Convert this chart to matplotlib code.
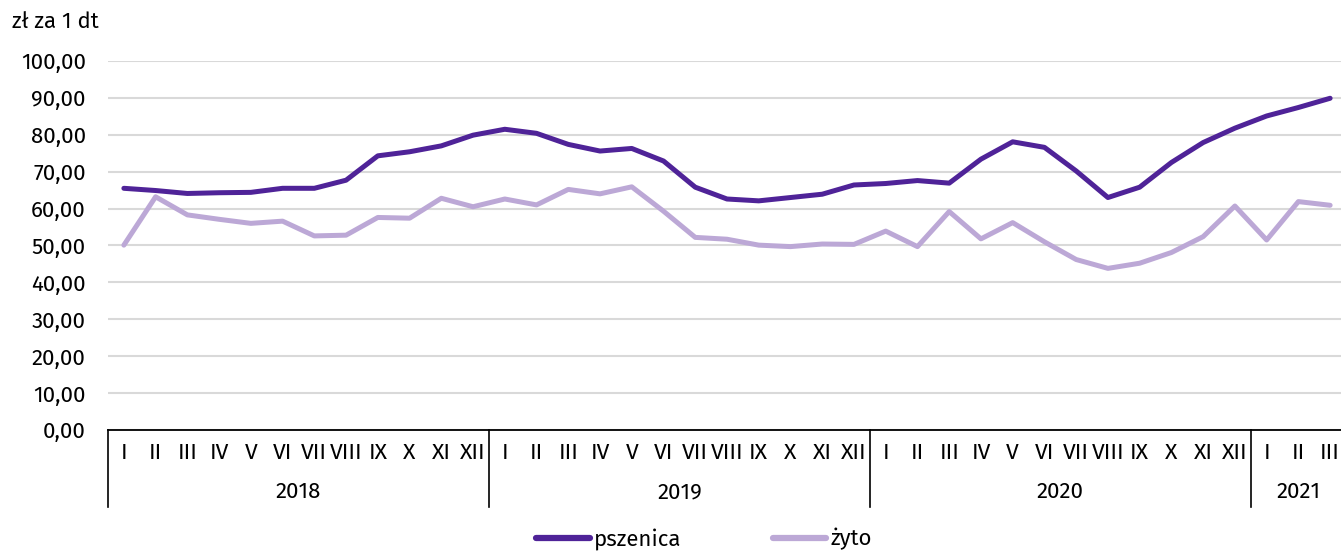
import matplotlib
matplotlib.use('Agg')
import matplotlib.pyplot as plt
from matplotlib import font_manager
from matplotlib.transforms import blended_transform_factory

names = set(f.name for f in font_manager.fontManager.ttflist)
for fam in ['Fira Sans', 'Liberation Sans Narrow', 'Roboto', 'Open Sans']:
    if fam in names:
        plt.rcParams['font.family'] = [fam, 'DejaVu Sans']
        break

months = ['I', 'II', 'III', 'IV', 'V', 'VI', 'VII', 'VIII', 'IX', 'X', 'XI', 'XII']
years = ['2018', '2019', '2020', '2021']
year_lengths = [12, 12, 12, 3]

pszenica = [65.5, 64.9, 64.1, 64.3, 64.4, 65.5, 65.5, 67.7, 74.3, 75.4, 77.0, 79.9,
            81.5, 80.4, 77.4, 75.6, 76.3, 72.9, 65.8, 62.6, 62.1, 63.0, 63.9, 66.4,
            66.8, 67.6, 66.9, 73.4, 78.1, 76.6, 70.2, 63.0, 65.8, 72.5, 77.9, 81.8,
            85.1, 87.4, 89.9]
zyto = [50.1, 63.2, 58.3, 57.1, 56.0, 56.6, 52.6, 52.8, 57.6, 57.4, 62.8, 60.5,
        62.6, 61.0, 65.2, 64.0, 65.9, 59.3, 52.2, 51.7, 50.1, 49.7, 50.4, 50.3,
        53.9, 49.7, 59.2, 51.8, 56.2, 51.0, 46.2, 43.8, 45.2, 48.1, 52.4, 60.7,
        51.5, 61.9, 60.9]

W, H = 1341, 551
FS = 16
fig = plt.figure(figsize=(W / 100, H / 100), dpi=100)
ax = fig.add_axes([108 / W, (H - 430) / H, (1346 - 108) / W, (430 - 61) / H])

x = list(range(len(pszenica)))
ax.plot(x, pszenica, color='#4f2398', lw=3.6, solid_capstyle='round', label='pszenica', zorder=3)
ax.plot(x, zyto, color='#bca8d6', lw=3.6, solid_capstyle='round', label='żyto', zorder=3)

ax.set_xlim(-0.5, len(x) - 0.5)
ax.set_ylim(0, 100)
ax.set_yticks(range(0, 101, 10))
ax.set_yticklabels(['%d,00' % v for v in range(0, 101, 10)], fontsize=FS)
ax.tick_params(axis='y', length=0, pad=16)
ax.set_xticks([])
ax.yaxis.grid(True, color='#d9d9d9', lw=1.5)
ax.set_axisbelow(True)
for s in ['top', 'right', 'left']:
    ax.spines[s].set_visible(False)
ax.spines['bottom'].set_color('black')
ax.spines['bottom'].set_linewidth(1.3)

tr = blended_transform_factory(ax.transData, ax.transAxes)
pos = 0
ax.plot([-0.5, -0.5], [0, -0.21], transform=tr, color='black', lw=1.2, clip_on=False)
for yr, n in zip(years, year_lengths):
    for i in range(n):
        ax.text(pos + i, -0.062, months[i], transform=tr, ha='center', va='center', fontsize=FS + 0.5)
    ax.text(pos + (n - 1) / 2, -0.168, yr, transform=tr, ha='center', va='center', fontsize=FS)
    pos += n
    if n == 12:
        ax.plot([pos - 0.5, pos - 0.5], [0, -0.21], transform=tr, color='black', lw=1.2, clip_on=False)

fig.text(12 / W, 1 - 22 / H, 'zł za 1 dt', fontsize=FS, ha='left', va='center')

leg = fig.legend(loc='center', bbox_to_anchor=(0.525, 1 - 539 / H), ncol=2, frameon=False,
                 fontsize=FS, handlelength=2.4, handletextpad=0.2, columnspacing=4.1)
for h in leg.get_lines():
    h.set_linewidth(4.5)

fig.savefig('out.png', dpi=100)
